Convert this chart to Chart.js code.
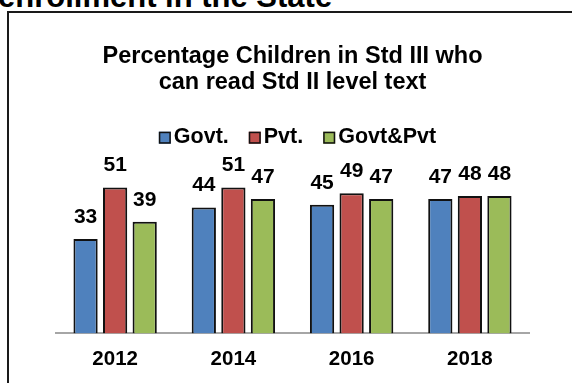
<!DOCTYPE html>
<html>
<head>
<meta charset="utf-8">
<script src="https://cdn.jsdelivr.net/npm/chart.js@4.4.1/dist/chart.umd.min.js"></script>
<style>
  body { margin: 0; background: #fff; width: 572px; height: 383px; overflow: hidden; position: relative; font-family: "Liberation Sans", Arial, sans-serif; }
  #heading { position: absolute; left: -2px; top: -19px; font-size: 31px; font-weight: bold; line-height: 1; white-space: nowrap; color: #000; }
  #frame { position: absolute; left: 7px; top: 11px; width: 620px; height: 420px; border-left: 2px solid #1a1a1a; border-top: 2px solid #1a1a1a; }
  #ex_chart { position: absolute; left: 0; top: 0; }
</style>
</head>
<body>
<div id="heading">enrollment in the State</div>
<div id="frame"></div>
<canvas id="ex_chart" width="572" height="383"></canvas>
<script>
// data
const years = ['2012', '2014', '2016', '2018'];
const govt = [33, 44, 45, 47];
const pvt = [51, 51, 49, 48];
const govtPvt = [39, 47, 47, 48];
const seriesNames = ['Govt.', 'Pvt.', 'Govt&Pvt'];
const titleLines = ['Percentage Children in Std III who', 'can read Std II level text'];

const FONT = '"Liberation Sans", Arial, sans-serif';

// numbers above each bar
const valueLabels = {
    id: 'valueLabels',
    afterDatasetsDraw(chart) {
        const c = chart.ctx;
        c.save();
        c.font = 'bold 21px ' + FONT;
        c.fillStyle = '#000';
        c.textAlign = 'center';
        c.textBaseline = 'alphabetic';
        chart.data.datasets.forEach((ds, i) => {
            chart.getDatasetMeta(i).data.forEach((bar, j) => {
                c.fillText(ds.data[j], bar.x, bar.y - 16);
            });
        });
        c.restore();
    }
};

// small square legend, tight gap between box and text
const boxLegend = {
    id: 'boxLegend',
    afterDraw(chart) {
        const c = chart.ctx;
        const area = chart.chartArea;
        c.save();
        c.font = 'bold 21.5px ' + FONT;
        c.textBaseline = 'alphabetic';
        c.textAlign = 'left';
        const items = chart.data.datasets.map(ds => ({ ds: ds, w: c.measureText(ds.label).width }));
        const total = items.reduce((s, it) => s + 15 + it.w, 0) + 20 * (items.length - 1);
        let x = (area.left + area.right) / 2 + 5 - total / 2;
        const base = area.top - 19;
        items.forEach(it => {
            c.fillStyle = it.ds.backgroundColor;
            c.fillRect(x, base - 11, 12, 12);
            c.lineWidth = 1.5;
            c.strokeStyle = '#111';
            c.strokeRect(x + 0.75, base - 10.25, 10.5, 10.5);
            c.fillStyle = '#000';
            c.fillText(it.ds.label, x + 15, base);
            x += 15 + it.w + 20;
        });
        c.restore();
    }
};

window.addEventListener('load', function () {
    const ctx = document.getElementById('ex_chart');

    const data = {
        labels: years,
        datasets: [
            { label: seriesNames[0], data: govt, backgroundColor: '#4F81BD' },
            { label: seriesNames[1], data: pvt, backgroundColor: '#C0504D' },
            { label: seriesNames[2], data: govtPvt, backgroundColor: '#9BBB59' }
        ]
    };
    data.datasets.forEach(ds => {
        ds.borderColor = '#111';
        ds.borderWidth = 2;
        ds.categoryPercentage = 0.75;
        ds.barPercentage = 0.82;
    });

    const options = {
        responsive: false,
        animation: false,
        devicePixelRatio: 1,
        layout: { padding: { left: 56, right: 43, top: 0, bottom: -3 } },
        plugins: {
            legend: { display: false },
            tooltip: { enabled: false },
            title: {
                display: true,
                text: titleLines,
                color: '#000',
                font: { family: FONT, size: 23.5, weight: 'bold', lineHeight: 1.1 },
                padding: { top: 44, bottom: 66 }
            }
        },
        scales: {
            x: {
                grid: { display: false, drawTicks: false },
                border: { display: true, color: '#A6A6A6', width: 2 },
                ticks: { color: '#000', padding: 14, font: { family: FONT, size: 20.5, weight: 'bold' } }
            },
            y: {
                display: false,
                min: 0,
                max: 60
            }
        }
    };

    const chart = new Chart(ctx, {
        type: 'bar',
        data: data,
        options: options,
        plugins: [valueLabels, boxLegend]
    });
    console.log(chart.chartArea);
});
</script>
</body>
</html>
